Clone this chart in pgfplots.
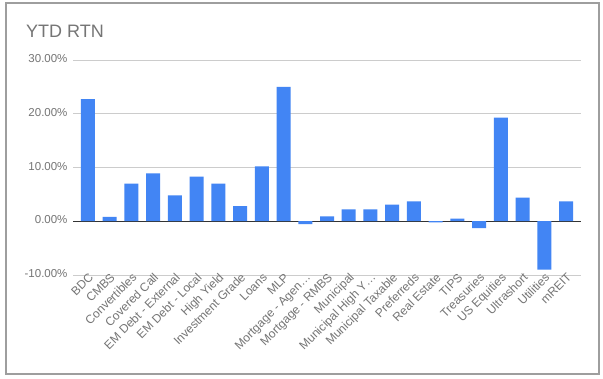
\documentclass[border=0pt]{standalone}
\usepackage{pgfplots}
\pgfplotsset{compat=1.18}
\usepackage{fontspec}
\setmainfont{Liberation Sans}
\definecolor{barblue}{HTML}{4285F4}
\definecolor{labgray}{HTML}{757575}
\definecolor{gridgray}{HTML}{CCCCCC}
\definecolor{framegray}{HTML}{9E9E9E}
\begin{document}
\begin{tikzpicture}[x=1pt,y=1pt]
\useasboundingbox (0,0) rectangle (603,379);
\fill[white] (0,0) rectangle (603,379);
\draw[framegray, line width=1.2pt] (6,5) rectangle (599,376);
\node[anchor=base west, text=labgray, font=\fontsize{18}{20}\selectfont, inner sep=0] at (26,341) {YTD RTN};
\begin{axis}[
  at={(73pt,104pt)}, anchor=south west,
  scale only axis, width=508pt, height=215pt,
  xmin=-0.69, xmax=22.69, ymin=-10, ymax=30,
  axis line style={draw=none},
  tick style={draw=none},
  ymajorgrids, grid style={gridgray, line width=0.8pt},
  ytick={-10,0,10,20,30},
  yticklabels={-10.00\%,0.00\%,10.00\%,20.00\%,30.00\%},
  extra y ticks={0}, extra y tick labels={},
  extra y tick style={grid style={black!80, line width=0.9pt}},
  yticklabel style={text=labgray, font=\fontsize{11.5}{13}\selectfont, xshift=-2pt},
  xtick={0,...,22},
  xticklabels={BDC,CMBS,Convertibles,Covered Call,EM Debt - External,EM Debt - Local,High Yield,Investment Grade,Loans,MLP,Mortgage - Agen…,Mortgage - RMBS,Municipal,Municipal High Y…,Municipal Taxable,Preferreds,Real Estate,TIPS,Treasuries,US Equities,Ultrashort,Utilities,mREIT},
  xticklabel style={text=labgray, font=\fontsize{12}{13}\selectfont, rotate=45, anchor=east, inner sep=1pt, xshift=3pt, yshift=-4pt},
  xticklabel pos=lower,
  typeset ticklabels with strut,
]
\addplot[ybar, bar width=14pt, fill=barblue, draw=none] coordinates {
(0,22.7) (1,0.8) (2,7.0) (3,8.9) (4,4.8) (5,8.3) (6,7.0) (7,2.8) (8,10.2) (9,25.0)
(10,-0.55) (11,0.9) (12,2.2) (13,2.2) (14,3.1) (15,3.7) (16,-0.2) (17,0.5) (18,-1.3)
(19,19.3) (20,4.4) (21,-9.0) (22,3.7)
};
\end{axis}
\end{tikzpicture}
\end{document}
